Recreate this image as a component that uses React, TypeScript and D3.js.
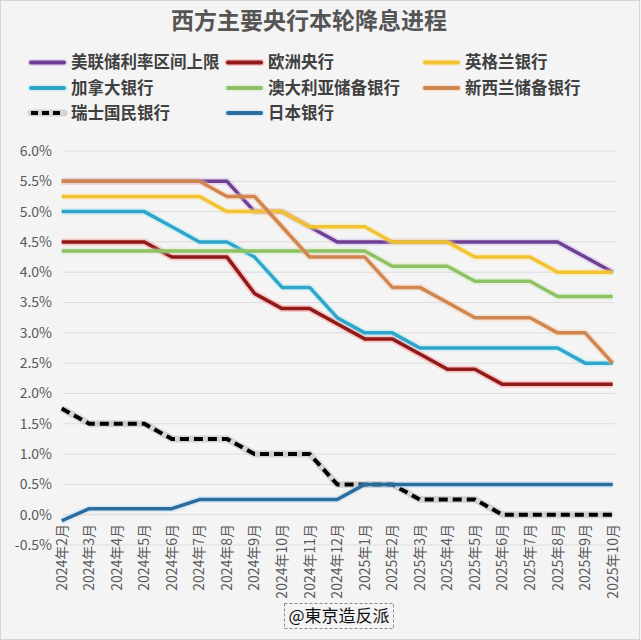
import React from "react";
import * as d3 from "d3";

const months = [
  "2024年2月","2024年3月","2024年4月","2024年5月","2024年6月","2024年7月","2024年8月",
  "2024年9月","2024年10月","2024年11月","2024年12月","2025年1月","2025年2月","2025年3月",
  "2025年4月","2025年5月","2025年6月","2025年7月","2025年8月","2025年9月","2025年10月",
];

const fed = [5.5,5.5,5.5,5.5,5.5,5.5,5.5,5.0,5.0,4.75,4.5,4.5,4.5,4.5,4.5,4.5,4.5,4.5,4.5,4.25,4.0];
const ecb = [4.5,4.5,4.5,4.5,4.25,4.25,4.25,3.65,3.4,3.4,3.15,2.9,2.9,2.65,2.4,2.4,2.15,2.15,2.15,2.15,2.15];
const boe = [5.25,5.25,5.25,5.25,5.25,5.25,5.0,5.0,5.0,4.75,4.75,4.75,4.5,4.5,4.5,4.25,4.25,4.25,4.0,4.0,4.0];
const boc = [5.0,5.0,5.0,5.0,4.75,4.5,4.5,4.25,3.75,3.75,3.25,3.0,3.0,2.75,2.75,2.75,2.75,2.75,2.75,2.5,2.5];
const rba = [4.35,4.35,4.35,4.35,4.35,4.35,4.35,4.35,4.35,4.35,4.35,4.35,4.1,4.1,4.1,3.85,3.85,3.85,3.6,3.6,3.6];
const rbnz = [5.5,5.5,5.5,5.5,5.5,5.5,5.25,5.25,4.75,4.25,4.25,4.25,3.75,3.75,3.5,3.25,3.25,3.25,3.0,3.0,2.5];
const snb = [1.75,1.5,1.5,1.5,1.25,1.25,1.25,1.0,1.0,1.0,0.5,0.5,0.5,0.25,0.25,0.25,0,0,0,0,0];
const boj = [-0.1,0.1,0.1,0.1,0.1,0.25,0.25,0.25,0.25,0.25,0.25,0.5,0.5,0.5,0.5,0.5,0.5,0.5,0.5,0.5,0.5];

const seriesNames = ["美联储利率区间上限","欧洲央行","英格兰银行","加拿大银行","澳大利亚储备银行","新西兰储备银行","瑞士国民银行","日本银行"];
const seriesValues = [fed, ecb, boe, boc, rba, rbnz, snb, boj];
const seriesColors = ["#6e3f92","#8e1a1a","#f1c232","#2ea6c9","#8dc163","#d08651","#000000","#2c6c9c"];
const glowColors = ["#c9a6e6","#ff7070","#ffe08a","#9fe6f5","#c9e8b2","#f5c39a","#999999","#a8d4f0"];

const yTicks = [-0.5,0,0.5,1,1.5,2,2.5,3,3.5,4,4.5,5,5.5,6];

const title = "西方主要央行本轮降息进程";
const watermark = "@東京造反派";

const W = 641, H = 640;
const FONT = "'Noto Sans CJK SC', 'Noto Sans', sans-serif";

export default function App() {
  const x = d3.scalePoint<string>().domain(months).range([61.7, 612.7]);
  const y = d3.scaleLinear().domain([-0.5, 6]).range([545, 151]);
  const line = d3.line<number>()
    .x((_, i) => x(months[i]) as number)
    .y((d) => y(d));

  const legendPos = [
    [31, 62.5],[228, 62.5],[425, 62.5],
    [31, 88],[228, 88],[425, 88],
    [31, 113],[228, 113],
  ];

  return (
    <svg width={W} height={H} style={{ position: "fixed", left: 0, top: 0 }} fontFamily={FONT}>
      <rect x={0} y={0} width={W} height={H} fill="#f4f4f4" />
      <rect x={0.5} y={0.5} width={W - 2} height={H - 1} fill="none" stroke="#d4d4d4" />
      <text x={309} y={29} textAnchor="middle" fontSize={23} fontWeight="bold" fill="#555555">{title}</text>

      {seriesNames.map((n, i) => {
        const [lx, ly] = legendPos[i];
        return (
          <g key={n}>
            <line x1={lx} x2={lx + 33} y1={ly} y2={ly} stroke={glowColors[i]} strokeOpacity={0.35} strokeWidth={7} strokeLinecap="round" />
            <line x1={lx} x2={lx + 33} y1={ly} y2={ly} stroke={seriesColors[i]} strokeWidth={4} strokeDasharray={i === 6 ? "7,4" : undefined} strokeLinecap={i === 6 ? "butt" : "round"} />
            <text x={lx + 40} y={ly} dy="0.36em" fontSize={16.5} fontWeight="bold" fill="#404040">{n}</text>
          </g>
        );
      })}

      {yTicks.map((t) => (
        <g key={t}>
          <line x1={63} x2={615} y1={y(t)} y2={y(t)} stroke="#dcdcdc" strokeWidth={1} />
          <text x={52} y={y(t)} dy="0.35em" textAnchor="end" fontSize={14} fill="#595959">{t.toFixed(1) + "%"}</text>
        </g>
      ))}

      {months.map((m) => (
        <text key={m} transform={`translate(${x(m)},524) rotate(-90)`} dy="0.35em" textAnchor="end" fontSize={14} fill="#595959">{m}</text>
      ))}

      {seriesValues.map((vals, i) => (
        <g key={seriesNames[i]}>
          <path d={line(vals) || ""} fill="none" stroke={glowColors[i]} strokeOpacity={0.35} strokeWidth={7} strokeLinejoin="round" />
          <path d={line(vals) || ""} fill="none" stroke={seriesColors[i]} strokeWidth={i === 6 ? 4 : 3.5}
            strokeDasharray={i === 6 ? "9,5" : undefined} strokeLinejoin="round" />
        </g>
      ))}

      <rect x={284.5} y={603.5} width={109} height={25} fill="none" stroke="#8a8a8a" strokeDasharray="3,2" />
      <text x={339} y={616} dy="0.36em" textAnchor="middle" fontSize={17} fill="#111">{watermark}</text>
    </svg>
  );
}
